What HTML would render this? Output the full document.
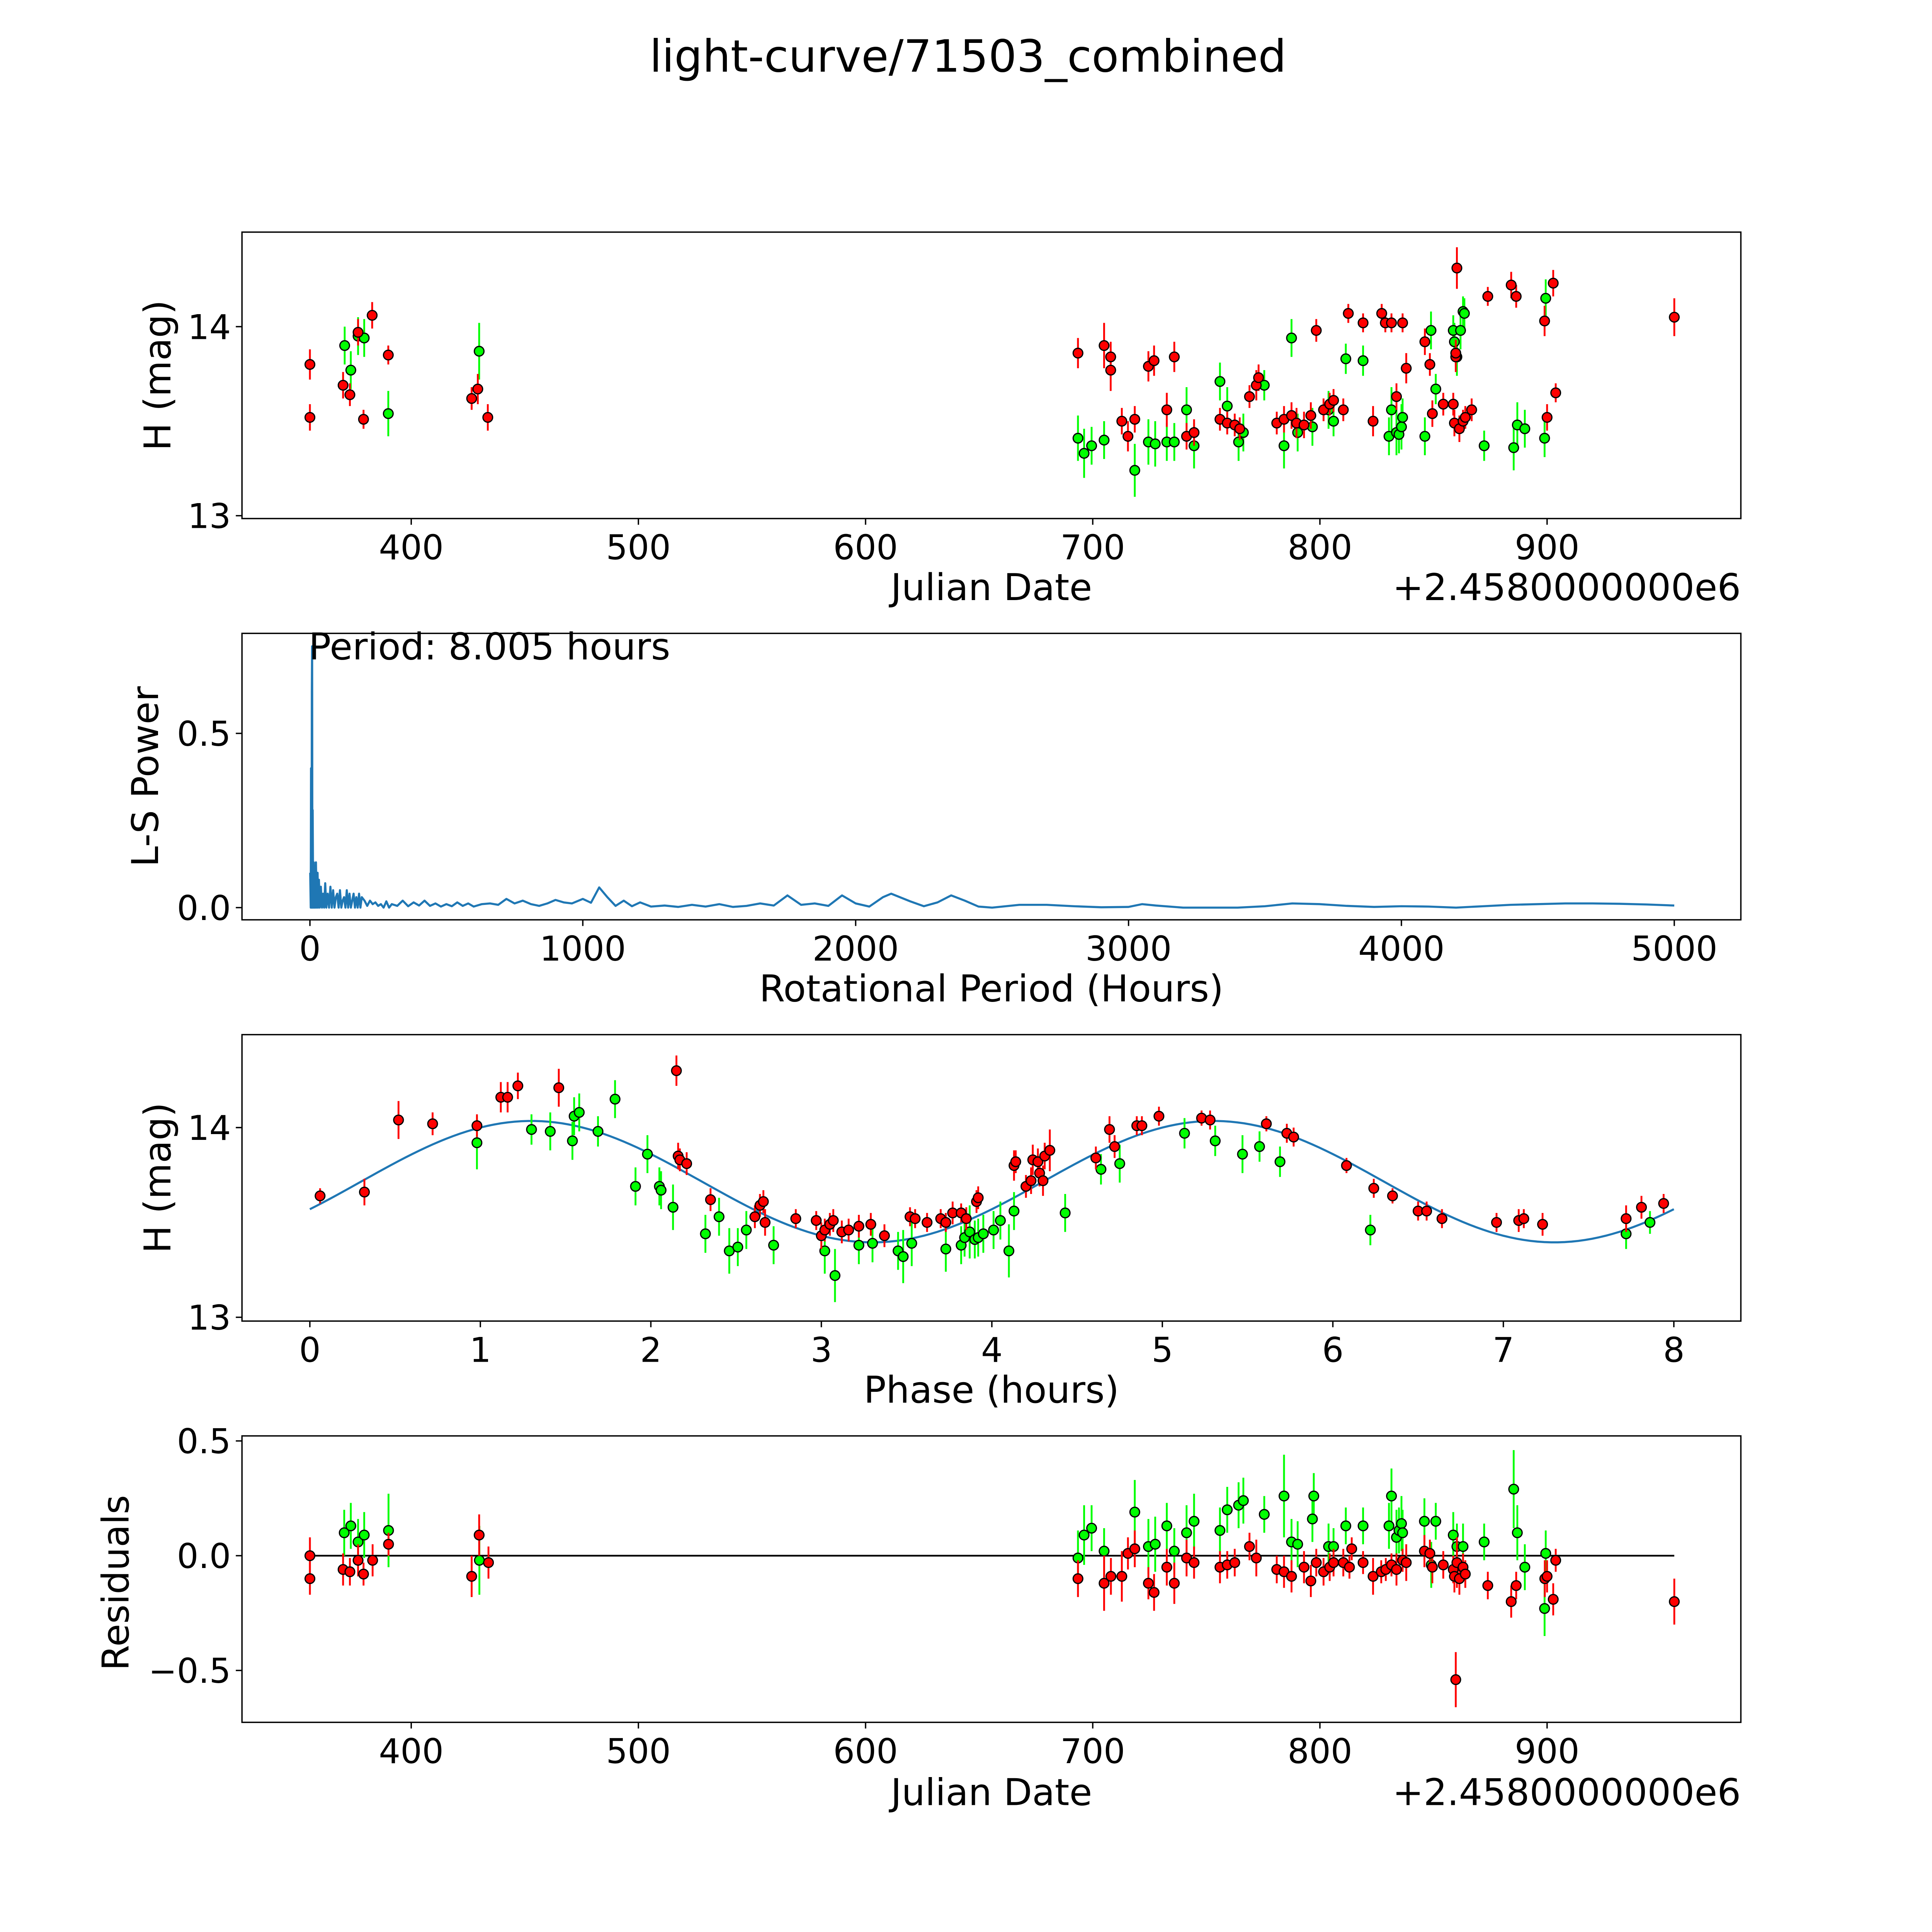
<!DOCTYPE html>
<html><head><meta charset="utf-8">
<style>
html,body{margin:0;padding:0;background:#fff;overflow:hidden;width:5400px;height:5400px;}
svg{display:block;font-family:"DejaVu Sans","Liberation Sans",sans-serif;}
</style></head>
<body>
<svg id="fig" width="5400" height="5400" viewBox="0 0 1690 1690" xmlns="http://www.w3.org/2000/svg">
<rect width="1690" height="1690" fill="#fff"/>
<text x="784" y="58" font-size="36" text-anchor="middle">light-curve/71503_combined</text>
</svg>
<script>
// ---------- DATA ----------
const lcRedDates = [355.4,355.4,370,373,376.6,379,382.8,389.9,426.6,429.3,433.7,693.5,705,707.9,707.9,712.8,715.5,718.5,724.5,727,732.6,735.9,741.3,744.6,756,759.2,762.5,764.7,769,772,773,781,784.2,787.5,789.7,793,796,798.4,801.6,804.3,806,810.3,812.5,819,823.4,827.2,828.8,831.5,833.7,836.4,838,846.2,848.4,849.5,854.3,858.7,859.2,859.8,859.8,860.3,861.4,863,864,866.8,873.9,884.2,886.4,898.9,900,902.7,903.8,956];
const lcRedMags = [13.80,13.52,13.69,13.64,13.97,13.51,14.06,13.85,13.62,13.67,13.52,13.86,13.90,13.84,13.77,13.50,13.42,13.51,13.79,13.82,13.56,13.84,13.42,13.44,13.51,13.49,13.48,13.46,13.63,13.69,13.73,13.49,13.51,13.53,13.49,13.48,13.53,13.98,13.56,13.59,13.61,13.56,14.07,14.02,13.50,14.07,14.02,14.02,13.63,14.02,13.78,13.92,13.80,13.54,13.59,13.59,13.49,13.84,13.86,14.31,13.46,13.50,13.52,13.56,14.16,14.22,14.16,14.03,13.52,14.23,13.65,14.05];
const lcRedErrs = [0.08,0.07,0.07,0.06,0.07,0.05,0.07,0.05,0.06,0.08,0.07,0.08,0.12,0.08,0.11,0.07,0.08,0.07,0.08,0.08,0.09,0.08,0.07,0.07,0.06,0.06,0.06,0.06,0.06,0.08,0.07,0.06,0.07,0.07,0.08,0.07,0.07,0.06,0.06,0.06,0.06,0.06,0.05,0.05,0.08,0.05,0.05,0.05,0.07,0.05,0.08,0.07,0.06,0.07,0.06,0.06,0.07,0.08,0.07,0.11,0.07,0.06,0.06,0.06,0.05,0.07,0.06,0.08,0.07,0.07,0.05,0.10];
const lcGreenDates = [370.7,373.4,376.6,379.3,389.9,429.9,693.5,696.2,699.5,705,718.5,724.5,727.5,732.6,735.9,741.3,744.6,756,759.2,764.2,766.3,775.5,784.2,787.5,790.2,796.7,803.8,806,811.4,819,830.4,831.5,833.7,834.8,835.9,836.4,846.2,848.9,851,858.7,859.2,860.3,861.9,863,863.6,872.3,885.3,886.9,890.2,898.9,899.4];
const lcGreenMags = [13.90,13.77,13.95,13.94,13.54,13.87,13.41,13.33,13.37,13.40,13.24,13.39,13.38,13.39,13.39,13.56,13.37,13.71,13.58,13.39,13.44,13.69,13.37,13.94,13.44,13.47,13.56,13.50,13.83,13.82,13.42,13.56,13.44,13.43,13.47,13.52,13.42,13.98,13.67,13.98,13.92,13.84,13.98,14.08,14.07,13.37,13.36,13.48,13.46,13.41,14.15];
const lcGreenErrs = [0.10,0.10,0.10,0.10,0.12,0.15,0.12,0.13,0.10,0.10,0.14,0.12,0.12,0.10,0.10,0.12,0.12,0.10,0.10,0.10,0.10,0.08,0.12,0.10,0.10,0.10,0.10,0.08,0.08,0.08,0.10,0.12,0.12,0.10,0.12,0.10,0.10,0.10,0.08,0.08,0.10,0.10,0.10,0.08,0.08,0.08,0.12,0.12,0.10,0.10,0.10];

const lsPeriods = [1,3,4,6,7,8,9,10,12,14,16,18,20,22,25,28,30,33,36,40,44,48,52,56,60,65,70,75,80,85,90,95,100,105,110,115,120,125,130,135,140,145,150,155,160,165,170,175,180,185,190,200,210,220,230,240,250,260,270,280,290,300,320,340,360,380,400,420,440,460,480,500,520,540,560,580,600,630,660,690,720,750,780,810,840,870,900,930,960,1000,1030,1060,1090,1120,1150,1180,1210,1250,1300,1350,1400,1450,1500,1550,1600,1650,1700,1750,1800,1850,1900,1950,2000,2050,2100,2130,2200,2250,2300,2350,2400,2450,2500,2600,2700,2800,2900,3000,3050,3100,3200,3300,3400,3500,3600,3700,3800,3900,4000,4100,4200,4300,4400,4500,4600,4700,4800,4900,5000];
const lsPower = [0.10,0.0,0.40,0.0,0.62,0.75,0.0,0.28,0.0,0.13,0.0,0.11,0.0,0.13,0.0,0.10,0.0,0.08,0.0,0.06,0.0,0.04,0.0,0.07,0.0,0.04,0.0,0.06,0.0,0.05,0.0,0.03,0.04,0.0,0.05,0.0,0.02,0.03,0.0,0.05,0.0,0.04,0.0,0.02,0.04,0.0,0.03,0.0,0.04,0.0,0.03,0.02,0.005,0.02,0.01,0.015,0.005,0.01,0.0,0.018,0.0,0.01,0.005,0.02,0.004,0.015,0.006,0.02,0.005,0.012,0.003,0.01,0.004,0.015,0.005,0.012,0.003,0.01,0.012,0.008,0.025,0.012,0.02,0.01,0.005,0.012,0.022,0.015,0.012,0.025,0.014,0.058,0.03,0.005,0.02,0.004,0.015,0.003,0.006,0.002,0.008,0.003,0.01,0.002,0.005,0.012,0.006,0.035,0.008,0.012,0.005,0.035,0.012,0.003,0.03,0.04,0.018,0.004,0.015,0.035,0.02,0.003,0.0,0.008,0.008,0.004,0.001,0.002,0.01,0.006,0.0,0.0,0.0,0.004,0.012,0.01,0.005,0.002,0.004,0.003,0.0,0.004,0.008,0.01,0.012,0.012,0.011,0.009,0.006];

const phRedPhase = [0.06,0.32,0.52,0.72,0.98,1.12,1.16,1.22,1.46,2.15,2.16,2.17,2.21,2.35,2.61,2.64,2.66,2.67,2.85,2.97,3.0,3.02,3.05,3.07,3.12,3.16,3.22,3.29,3.37,3.52,3.55,3.62,3.70,3.73,3.77,3.82,3.85,3.91,3.92,4.13,4.14,4.2,4.23,4.24,4.27,4.28,4.30,4.31,4.34,4.61,4.69,4.72,4.85,4.88,4.98,5.23,5.28,5.61,5.73,5.77,6.08,6.24,6.35,6.50,6.55,6.64,6.96,7.09,7.12,7.23,7.72,7.81,7.94];
const phRedMags = [13.64,13.66,14.04,14.02,14.01,14.16,14.16,14.22,14.21,14.30,13.85,13.83,13.81,13.62,13.53,13.59,13.61,13.50,13.52,13.51,13.43,13.46,13.49,13.51,13.45,13.46,13.48,13.49,13.43,13.53,13.52,13.50,13.52,13.50,13.55,13.55,13.52,13.61,13.63,13.80,13.82,13.69,13.72,13.83,13.82,13.76,13.72,13.85,13.88,13.84,13.99,13.90,14.01,14.01,14.06,14.05,14.04,14.02,13.97,13.95,13.80,13.68,13.64,13.56,13.56,13.52,13.50,13.51,13.52,13.49,13.52,13.58,13.60];
const phRedErrs = [0.04,0.07,0.1,0.06,0.06,0.08,0.08,0.07,0.1,0.08,0.07,0.06,0.06,0.06,0.06,0.06,0.06,0.07,0.05,0.05,0.07,0.06,0.06,0.06,0.06,0.06,0.06,0.06,0.06,0.05,0.05,0.05,0.05,0.05,0.06,0.05,0.06,0.06,0.06,0.08,0.06,0.06,0.07,0.08,0.07,0.07,0.08,0.07,0.11,0.06,0.07,0.06,0.05,0.05,0.05,0.04,0.05,0.04,0.05,0.05,0.04,0.05,0.04,0.05,0.05,0.05,0.05,0.06,0.05,0.06,0.07,0.06,0.05];
const phGreenPhase = [0.98,1.30,1.41,1.54,1.55,1.58,1.69,1.79,1.91,1.98,2.05,2.06,2.13,2.32,2.40,2.46,2.51,2.56,2.72,3.02,3.08,3.22,3.30,3.45,3.48,3.53,3.73,3.82,3.84,3.87,3.90,3.92,3.95,4.01,4.05,4.10,4.13,4.43,4.64,4.75,5.13,5.31,5.47,5.57,5.69,6.22,7.72,7.86];
const phGreenMags = [13.92,13.99,13.98,13.93,14.06,14.08,13.98,14.15,13.69,13.86,13.69,13.67,13.58,13.44,13.53,13.35,13.37,13.46,13.38,13.35,13.22,13.38,13.39,13.35,13.32,13.39,13.36,13.38,13.42,13.45,13.41,13.42,13.44,13.46,13.51,13.35,13.56,13.55,13.78,13.81,13.97,13.93,13.86,13.90,13.82,13.46,13.44,13.50];
const phGreenErrs = [0.14,0.08,0.1,0.1,0.1,0.1,0.08,0.1,0.1,0.1,0.1,0.1,0.12,0.1,0.1,0.12,0.1,0.1,0.1,0.12,0.14,0.1,0.1,0.1,0.14,0.12,0.12,0.1,0.1,0.14,0.1,0.1,0.1,0.1,0.1,0.14,0.1,0.1,0.08,0.1,0.08,0.08,0.1,0.08,0.08,0.08,0.08,0.06];
const modelParams = [13.715, 0.32, 4.0, 0.3];

const rsRedDates = [355.4,355.4,370,373,376.6,379,383,390,426.6,429.9,434,693.5,705,708,712.8,715.5,718.5,724.5,727,732.6,735.9,741.3,744.6,756,759.2,762.5,769,772,781,784.2,787.5,793,796,798.4,801.6,804.3,806,810.3,813,814,819,823.4,827,829,831.5,833.7,836.4,838,846,848.4,849.5,854.3,858.7,859.2,859.8,860.3,861.4,863,864,873.9,884.2,886.4,899,900,902.7,903.8,956];
const rsRedVals = [0.0,-0.10,-0.06,-0.07,-0.02,-0.08,-0.02,0.05,-0.09,0.09,-0.03,-0.10,-0.12,-0.09,-0.09,0.01,0.03,-0.12,-0.16,-0.05,-0.12,-0.01,-0.03,-0.05,-0.04,-0.03,0.04,-0.01,-0.06,-0.07,-0.09,-0.05,-0.11,-0.03,-0.07,-0.05,-0.03,-0.03,-0.05,0.03,-0.03,-0.09,-0.07,-0.06,-0.04,-0.06,-0.02,-0.03,0.02,0.01,-0.05,-0.04,-0.06,-0.09,-0.54,-0.03,-0.10,-0.05,-0.08,-0.13,-0.20,-0.13,-0.10,-0.09,-0.19,-0.02,-0.20];
const rsRedErrs = [0.08,0.07,0.07,0.06,0.07,0.05,0.07,0.05,0.09,0.09,0.07,0.08,0.12,0.08,0.11,0.07,0.08,0.07,0.08,0.08,0.09,0.08,0.07,0.07,0.06,0.06,0.06,0.08,0.06,0.07,0.07,0.07,0.07,0.06,0.06,0.06,0.06,0.06,0.05,0.05,0.05,0.08,0.05,0.05,0.05,0.07,0.05,0.08,0.07,0.06,0.07,0.06,0.06,0.07,0.12,0.11,0.07,0.06,0.06,0.06,0.07,0.06,0.08,0.07,0.07,0.05,0.10];
const rsGreenDates = [370.5,373.4,376.6,379.3,390,430,693.5,696.2,699.5,705,718.5,724.5,727.5,732.6,735.9,741.3,744.6,756,759.2,764.2,766.3,775.5,784.2,787.5,790.2,796.7,797.3,803.8,806,811.4,819,830.4,831.5,833.7,834.8,835.9,836.4,846,849,851,858.7,860.3,863,872.3,885.3,886.9,890.2,898.9,899.4];
const rsGreenVals = [0.10,0.13,0.06,0.09,0.11,-0.02,-0.01,0.09,0.12,0.02,0.19,0.04,0.05,0.13,0.02,0.10,0.15,0.11,0.20,0.22,0.24,0.18,0.26,0.06,0.05,0.16,0.26,0.04,0.04,0.13,0.13,0.13,0.26,0.08,0.11,0.14,0.10,0.15,-0.04,0.15,0.09,0.04,0.04,0.06,0.29,0.10,-0.05,-0.23,0.01];
const rsGreenErrs = [0.10,0.10,0.10,0.10,0.16,0.15,0.12,0.13,0.10,0.10,0.14,0.12,0.12,0.10,0.10,0.12,0.12,0.10,0.10,0.10,0.10,0.08,0.18,0.10,0.10,0.10,0.10,0.10,0.08,0.08,0.08,0.10,0.12,0.12,0.10,0.12,0.10,0.10,0.10,0.08,0.10,0.10,0.10,0.08,0.17,0.12,0.10,0.12,0.10];

const dateTicks = [400,500,600,700,800,900];
const magTicks = [13,14];
const lsXTicks = [0,1000,2000,3000,4000,5000];
const lsYTicks = [0.0,0.5];
const phaseTicks = [0,1,2,3,4,5,6,7,8];
const resTicks = [-0.5,0.0,0.5];

// ---------- DRAWING ----------
const NS = 'http://www.w3.org/2000/svg';
const svg = document.getElementById('fig');
function mk(tag, attrs, parent){
  const e = document.createElementNS(NS, tag);
  for (const k in attrs) e.setAttribute(k, attrs[k]);
  (parent||svg).appendChild(e);
  return e;
}
function linScale(d0,d1,r0,r1){ return v => r0 + (v-d0)/(d1-d0)*(r1-r0); }

const L = 196, R = 1410;
const TICK_FS = 27.5, LABEL_FS = 30;
function makeAxes(name, top, bottom, xd, yd){
  const g = mk('g', {});
  
  
  return {g, top, bottom, x: linScale(xd[0],xd[1],L,R), y: linScale(yd[0],yd[1],bottom,top)};
}
function frame(ax){
  const r = mk('rect', {x:L, y:ax.top, width:R-L, height:ax.bottom-ax.top, fill:'none', stroke:'#000', 'stroke-width':1.1});
  
  
  ax.g.appendChild(r);
}
function fmt(v, dec){ const s = v.toFixed(dec); return s.replace('-', '\u2212'); }
function xTicks(ax, ticks, dec){
  ticks.forEach(t => {
    const px = ax.x(t);
    mk('line', {x1:px, x2:px, y1:ax.bottom, y2:ax.bottom+5, stroke:'#000', 'stroke-width':1.1}, ax.g);
    const tx = mk('text', {x:px, y:ax.bottom+33, 'font-size':TICK_FS, 'text-anchor':'middle'}, ax.g);
    
    
    tx.textContent = fmt(t, dec);
  });
}
function yTicks(ax, ticks, dec){
  ticks.forEach(t => {
    const py = ax.y(t);
    mk('line', {x1:L-5, x2:L, y1:py, y2:py, stroke:'#000', 'stroke-width':1.1}, ax.g);
    const tx = mk('text', {x:L-9, y:py+10, 'font-size':TICK_FS, 'text-anchor':'end'}, ax.g);
    
    
    tx.textContent = fmt(t, dec);
  });
}
function label(ax, text, x, y, rot, name, anchor){
  const t = mk('text', {x:x, y:y, 'font-size':LABEL_FS, 'text-anchor':anchor||'middle'}, ax.g);
  if (rot) t.setAttribute('transform', 'rotate(-90 '+x+' '+y+')');
  
  
  t.textContent = text;
}
function points(ax, xs, ys, es, color, name){
  const g = mk('g', {}, ax.g);
  
  
  xs.forEach((v,i) => {
    const px = ax.x(v);
    mk('line', {x1:px, x2:px, y1:ax.y(ys[i]-es[i]), y2:ax.y(ys[i]+es[i]), stroke:color, 'stroke-width':1.5}, g);
  });
  xs.forEach((v,i) => {
    const c = mk('circle', {cx:ax.x(v), cy:ax.y(ys[i]), r:3.9, fill:color, stroke:'#000', 'stroke-width':1}, g);
    
    
  });
}

const a1 = makeAxes('light-curve-panel', 188, 420, [325.5,985.3], [12.985,14.5]);
points(a1, lcGreenDates, lcGreenMags, lcGreenErrs, '#00ff00', 'green-band-series');
points(a1, lcRedDates, lcRedMags, lcRedErrs, '#ff0000', 'red-band-series');
frame(a1); xTicks(a1, dateTicks, 0); yTicks(a1, magTicks, 0);
label(a1, 'Julian Date', 803, 486, false, 'x-axis-title');
label(a1, '+2.4580000000e6', 1410, 486, false, 'x-axis-offset', 'end');
label(a1, 'H (mag)', 138, 304, true, 'y-axis-title');

const a2 = makeAxes('periodogram-panel', 513, 745, [-249,5244], [-0.035,0.787]);
let d = '';
lsPeriods.forEach((p,i) => { d += (i?'L':'M') + a2.x(p).toFixed(2) + ',' + a2.y(lsPower[i]).toFixed(2); });
const pl = mk('path', {d:d, fill:'none', stroke:'#1f77b4', 'stroke-width':1.7, 'stroke-linejoin':'round'}, a2.g);


frame(a2); xTicks(a2, lsXTicks, 0); yTicks(a2, lsYTicks, 1);
label(a2, 'Rotational Period (Hours)', 803, 811, false, 'x-axis-title');
label(a2, 'L-S Power', 128, 629, true, 'y-axis-title');
label(a2, 'Period: 8.005 hours', 250, 534, false, 'period-annotation', 'start');

const a3 = makeAxes('phase-fold-panel', 838, 1070, [-0.398,8.393], [12.98,14.49]);
let md = '';
for (let i=0;i<=200;i++){
  const t = 8*i/200;
  const m = modelParams[0] + modelParams[1]*Math.sin(2*Math.PI*(t-modelParams[3])/modelParams[2]);
  md += (i?'L':'M') + a3.x(t).toFixed(2) + ',' + a3.y(m).toFixed(2);
}
const ml = mk('path', {d:md, fill:'none', stroke:'#1f77b4', 'stroke-width':1.7}, a3.g);


points(a3, phGreenPhase, phGreenMags, phGreenErrs, '#00ff00', 'green-band-series');
points(a3, phRedPhase, phRedMags, phRedErrs, '#ff0000', 'red-band-series');
frame(a3); xTicks(a3, phaseTicks, 0); yTicks(a3, magTicks, 0);
label(a3, 'Phase (hours)', 803, 1136, false, 'x-axis-title');
label(a3, 'H (mag)', 138, 954, true, 'y-axis-title');

const a4 = makeAxes('residuals-panel', 1163, 1395, [325.5,985.3], [-0.726,0.522]);
const zl = mk('line', {x1:a4.x(355.4), x2:a4.x(956), y1:a4.y(0), y2:a4.y(0), stroke:'#000', 'stroke-width':1.4}, a4.g);


points(a4, rsGreenDates, rsGreenVals, rsGreenErrs, '#00ff00', 'green-band-residuals');
points(a4, rsRedDates, rsRedVals, rsRedErrs, '#ff0000', 'red-band-residuals');
frame(a4); xTicks(a4, dateTicks, 0); yTicks(a4, resTicks, 1);
label(a4, 'Julian Date', 803, 1462, false, 'x-axis-title');
label(a4, '+2.4580000000e6', 1410, 1462, false, 'x-axis-offset', 'end');
label(a4, 'Residuals', 104, 1282, true, 'y-axis-title');
</script>
</body></html>
